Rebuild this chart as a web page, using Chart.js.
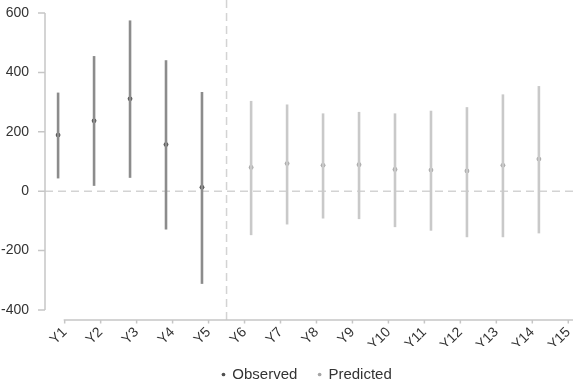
<!DOCTYPE html>
<html>
<head>
<meta charset="utf-8">
<script src="https://cdn.jsdelivr.net/npm/chart.js@4.4.1/dist/chart.umd.min.js"></script>
<style>
  html, body { margin: 0; padding: 0; background: #ffffff; }
  #wrap { width: 573px; height: 392px; }
</style>
</head>
<body>
<div id="wrap"><canvas id="c" width="573" height="392"></canvas></div>
<script>
// Period labels on the x axis
const periods = ['Y1', 'Y2', 'Y3', 'Y4', 'Y5', 'Y6', 'Y7', 'Y8', 'Y9', 'Y10', 'Y11', 'Y12', 'Y13', 'Y14', 'Y15'];

// Observed periods (Y1-Y5): point estimate and interval
const observedEst  = [189, 237, 311, 157, 13];
const observedLow  = [43, 18, 45, -129, -312];
const observedHigh = [332, 455, 575, 441, 334];

// Predicted periods (Y6-Y15): point estimate and interval
const predictedEst  = [80, 93, 87, 89, 73, 71, 68, 87, 108, 75];
const predictedLow  = [-148, -112, -92, -94, -121, -133, -155, -155, -142, -240];
const predictedHigh = [304, 292, 262, 267, 262, 271, 283, 326, 354, 390];

// Value axis ticks
const yTicks = [-400, -200, 0, 200, 400, 600];

const nObs = observedEst.length;
const DODGE = 0.183;            // side offset of each series from its period tick
const X_MIN = -0.547;           // visible period range (index units)
const X_MAX = 14.02;

const observedRange = observedEst.map((_, i) => ({ x: i - DODGE, y: [observedLow[i], observedHigh[i]] }));
const predictedRange = predictedEst.map((_, k) => ({ x: k + nObs + DODGE, y: [predictedLow[k], predictedHigh[k]] }));
const observedPts = observedEst.map((v, i) => ({ x: i - DODGE, y: v }));
const predictedPts = predictedEst.map((v, k) => ({ x: k + nObs + DODGE, y: v }));

const FONT = 'Liberation Sans, Arial, Helvetica, sans-serif';
const TEXT = '#333333';

// Detached axis lines, tick marks and the dashed reference lines
const frame = {
  id: 'frame',
  beforeDatasetsDraw(chart) {
    const { ctx, scales: { x, y }, chartArea } = chart;
    const axisX = chartArea.left;
    const axisY = chartArea.bottom + 10;
    ctx.save();

    ctx.strokeStyle = '#d3d3d3';
    ctx.lineWidth = 1.5;
    ctx.setLineDash([8, 5]);
    const y0 = y.getPixelForValue(0);
    ctx.beginPath();
    ctx.moveTo(axisX, y0);
    ctx.lineTo(chart.width, y0);
    ctx.stroke();
    const xs = x.getPixelForValue(nObs - 0.5);
    ctx.beginPath();
    ctx.moveTo(xs, 0);
    ctx.lineTo(xs, axisY);
    ctx.stroke();

    ctx.setLineDash([]);
    ctx.strokeStyle = '#c6c6c6';
    ctx.lineWidth = 1.5;
    ctx.beginPath();
    ctx.moveTo(axisX, y.getPixelForValue(yTicks[yTicks.length - 1]));
    ctx.lineTo(axisX, y.getPixelForValue(yTicks[0]));
    yTicks.forEach(v => {
      const py = y.getPixelForValue(v);
      ctx.moveTo(axisX - 7, py);
      ctx.lineTo(axisX, py);
    });
    ctx.moveTo(x.getPixelForValue(0) - 1, axisY);
    ctx.lineTo(chart.width, axisY);
    periods.forEach((_, i) => {
      const px = x.getPixelForValue(i);
      ctx.moveTo(px, axisY);
      ctx.lineTo(px, axisY + 3.5);
    });
    ctx.stroke();
    ctx.restore();
  }
};

const barStyle = {
  grouped: false,
  barPercentage: 0.2,
  maxBarThickness: 2.6,
  borderWidth: 0,
  clip: false
};

new Chart(document.getElementById('c'), {
  type: 'bar',
  data: {
    datasets: [
      Object.assign({ label: 'Observed interval', data: observedRange, backgroundColor: '#8c8c8c' }, barStyle),
      Object.assign({ label: 'Predicted interval', data: predictedRange, backgroundColor: '#c9c9c9' }, barStyle),
      {
        type: 'scatter',
        label: 'Observed',
        data: observedPts,
        backgroundColor: '#505050',
        borderColor: '#505050',
        borderWidth: 0,
        pointRadius: 2.4,
        pointStyle: 'circle',
        clip: false
      },
      {
        type: 'scatter',
        label: 'Predicted',
        data: predictedPts,
        backgroundColor: '#a6a6a6',
        borderColor: '#a6a6a6',
        borderWidth: 0,
        pointRadius: 2.4,
        pointStyle: 'circle',
        clip: false
      }
    ]
  },
  options: {
    responsive: false,
    animation: false,
    devicePixelRatio: 1,
    layout: { padding: { top: 13, right: 0, left: 0, bottom: 0 } },
    scales: {
      x: {
        type: 'linear',
        min: X_MIN,
        max: X_MAX,
        offset: false,
        afterBuildTicks(s) { s.ticks = periods.map((_, i) => ({ value: i })); },
        grid: { display: false },
        border: { display: false },
        ticks: {
          autoSkip: false,
          minRotation: 45,
          maxRotation: 45,
          padding: 6,
          color: TEXT,
          font: { family: FONT, size: 14 },
          callback: v => periods[v]
        },
        afterFit(s) { s.height = 36; s.paddingLeft = 0; s.paddingRight = 0; }
      },
      y: {
        min: yTicks[0],
        max: yTicks[yTicks.length - 1],
        afterBuildTicks(s) { s.ticks = yTicks.map(v => ({ value: v })); },
        grid: { display: false },
        border: { display: false },
        ticks: {
          padding: 8,
          color: TEXT,
          font: { family: FONT, size: 14 }
        },
        afterFit(s) { s.width = 45; s.paddingTop = 0; s.paddingBottom = 0; }
      }
    },
    plugins: {
      legend: {
        position: 'bottom',
        fullSize: false,
        labels: {
          usePointStyle: true,
          pointStyle: 'circle',
          boxWidth: 2.6,
          boxHeight: 2.6,
          padding: 21,
          color: TEXT,
          font: { family: FONT, size: 15 },
          filter: item => item.datasetIndex >= 2
        }
      },
      tooltip: { enabled: false }
    }
  },
  plugins: [frame]
});
</script>
</body>
</html>
